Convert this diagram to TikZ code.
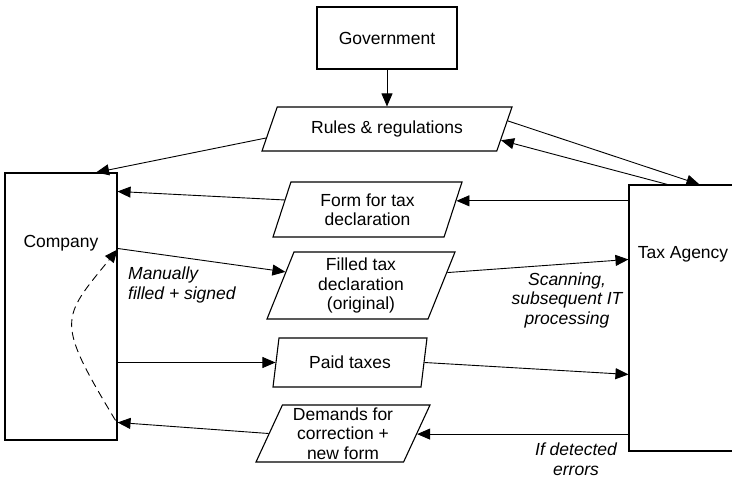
\documentclass[tikz,border=0pt]{standalone}
\usepackage{fontspec}
\setmainfont{Liberation Sans}
\usetikzlibrary{shapes.geometric,arrows.meta,calc}
\begin{document}
\begin{tikzpicture}[x=1pt,y=-1pt,
  font=\fontsize{17.5}{19.5}\selectfont,
  box/.style={draw, line width=1.1pt, inner sep=0pt},
  doc/.style={draw, line width=1.1pt, trapezium, trapezium stretches body,
    inner sep=0pt, align=center,
    trapezium left angle=#1, trapezium right angle=180-#1},
  flow/.style={line width=0.9pt, -{Triangle[length=13pt,width=11pt]}},
  note/.style={font=\fontsize{17.5}{19.5}\selectfont\itshape, align=center, inner sep=0pt}]
\useasboundingbox (0,0) rectangle (732,480);

% actors
\node[box, minimum width=140, minimum height=62] (gov) at (387,38) {Government};
\node[box, minimum width=112, minimum height=267] (company) at (61,306.5) {};
\node (companylabel) at (61,243) {Company};
\node[box, minimum width=110, minimum height=266] (tax) at (684,318) {};
\node (taxlabel) at (683,254) {Tax Agency};

% documents and payments
\node[doc=47, minimum width=250, minimum height=44] (rules) at (387,129) {Rules \& regulations};
\node[doc=61, minimum width=189, minimum height=55] (form) at (367.5,209.5) {Form for tax\\declaration};
\node[doc=64, minimum width=188, minimum height=67] (filled) at (361,285.5) {Filled tax\\declaration\\(original)};
\node[doc=65, minimum width=154, minimum height=49] (paid) at (350,362.5) {Paid taxes};
\node[doc=63, minimum width=174, minimum height=57] (demands) at (343,433.5) {Demands for\\correction +\\new form};

% attachment points on the slanted sides
\coordinate (rulesL)  at ($(rules.bottom left corner)!0.3!(rules.top left corner)$);
\coordinate (rulesR1) at ($(rules.bottom right corner)!0.68!(rules.top right corner)$);
\coordinate (rulesR2) at ($(rules.bottom right corner)!0.25!(rules.top right corner)$);
\coordinate (formR)   at ($(form.bottom right corner)!0.655!(form.top right corner)$);
\coordinate (formL)   at ($(form.bottom left corner)!0.67!(form.top left corner)$);
\coordinate (filledL) at ($(filled.bottom left corner)!0.70!(filled.top left corner)$);
\coordinate (filledR) at ($(filled.bottom right corner)!0.69!(filled.top right corner)$);
\coordinate (paidL)   at ($(paid.bottom left corner)!0.5!(paid.top left corner)$);
\coordinate (paidR)   at ($(paid.bottom right corner)!0.5!(paid.top right corner)$);
\coordinate (demR)    at ($(demands.bottom right corner)!0.49!(demands.top right corner)$);
\coordinate (demL)    at ($(demands.bottom left corner)!0.5!(demands.top left corner)$);

% flows
\draw[flow] (gov.south) -- (gov.south |- rules.top left corner);
\draw[flow] (rulesL) -- ($(company.north west)!0.81!(company.north east)$);
\draw[flow] (rulesR1) -- ($(tax.north west)+(71,0)$);
\draw[flow] ($(tax.north west)+(39,0)$) -- (rulesR2);
\draw[flow] (tax.west |- formR) -- (formR);
\draw[flow] (formL) -- ($(company.north east)+(0,19)$);
\draw[flow] ($(company.north east)+(0,76)$) -- (filledL);
\draw[flow] (filledR) -- ($(tax.north west)+(0,75)$);
\draw[flow] (company.east |- paidL) -- (paidL);
\draw[flow] (paidR) -- ($(tax.north west)+(0,190)$);
\draw[flow] (tax.west |- demR) -- (demR);
\draw[flow] (demL) -- ($(company.north east)+(0,250)$);
\draw[flow, dash pattern=on 8pt off 5pt]
  ($(company.north east)+(-2,248)$) .. controls (55,320) and (61,319) .. ($(company.north east)+(0,77)$);

% flow annotations
\node[note, anchor=west, align=left] (manual) at (128,285) {Manually\\filled + signed};
\node[note] (scan) at (567,300) {Scanning,\\subsequent IT\\processing};
\node[note] (errors) at (576,459) {If detected\\errors};
\end{tikzpicture}
\end{document}
